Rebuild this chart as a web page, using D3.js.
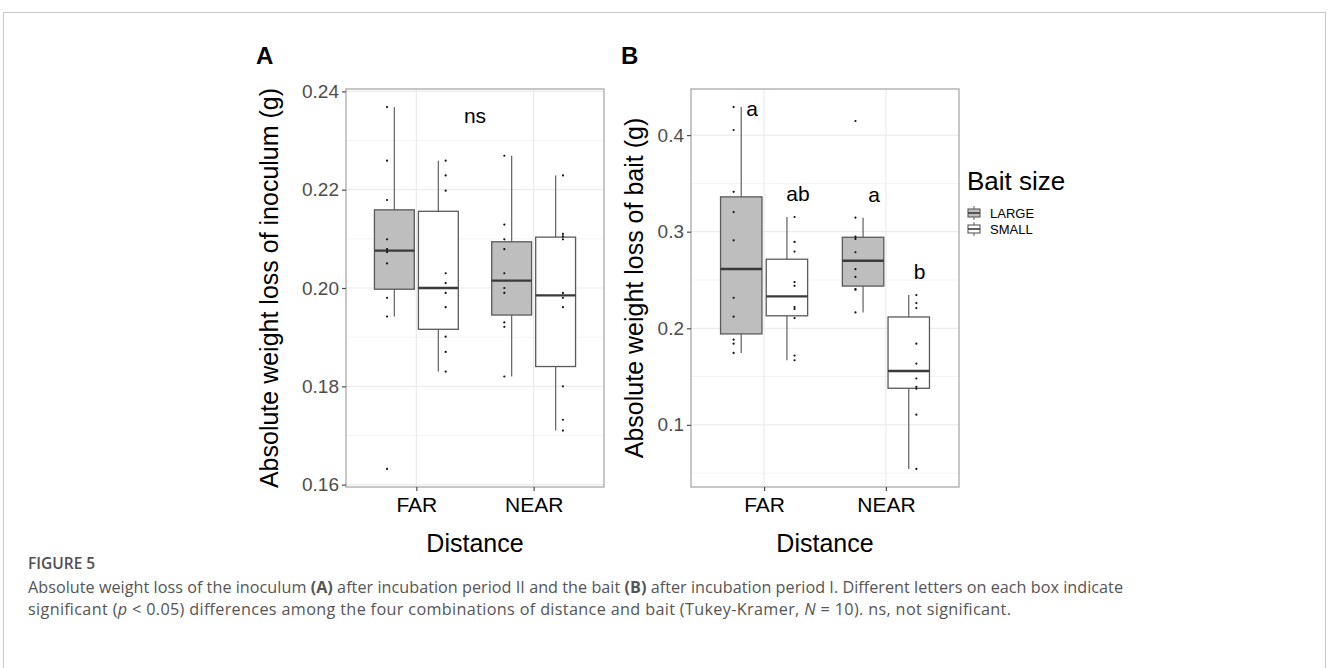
<!DOCTYPE html>
<html>
<head>
<meta charset="utf-8">
<script src="https://cdn.jsdelivr.net/npm/d3@7"></script>
<style>
  body { margin: 0; background: #fff; }
  svg { display: block; }
</style>
</head>
<body>
<svg id="fig" width="1328" height="668"></svg>
<script>
var svg = d3.select("#fig");

// categories
var distances = ["FAR", "NEAR"];
var baitSizes = ["LARGE", "SMALL"];

// panel A, weight loss of inoculum (g)
var inocFarLarge = [0.2368, 0.2259, 0.2179, 0.2099, 0.2079, 0.2073, 0.2050, 0.1980, 0.1942, 0.1632];
var inocFarSmall = [0.2259, 0.2229, 0.2198, 0.2030, 0.2010, 0.1990, 0.1961, 0.1901, 0.1870, 0.1830];
var inocNearLarge = [0.2269, 0.2129, 0.2099, 0.2079, 0.2030, 0.2000, 0.1990, 0.1930, 0.1921, 0.1820];
var inocNearSmall = [0.2229, 0.2110, 0.2105, 0.2099, 0.1990, 0.1980, 0.1961, 0.1800, 0.1732, 0.1710];

// panel B, weight loss of bait (g)
var baitFarLarge = [0.4290, 0.4053, 0.3413, 0.3203, 0.2911, 0.2316, 0.2120, 0.1882, 0.1841, 0.1745];
var baitFarSmall = [0.3152, 0.2894, 0.2794, 0.2478, 0.2440, 0.2220, 0.2199, 0.2106, 0.1717, 0.1669];
var baitNearLarge = [0.4146, 0.3145, 0.2948, 0.2925, 0.2787, 0.2612, 0.2532, 0.2405, 0.2400, 0.2164];
var baitNearSmall = [0.2344, 0.2261, 0.2209, 0.1841, 0.1635, 0.1480, 0.1394, 0.1374, 0.1105, 0.0544];

var inocTicks = [0.16, 0.18, 0.20, 0.22, 0.24];
var baitTicks = [0.1, 0.2, 0.3, 0.4];

// significance letters (B) and their heights
var baitLetters = ["a", "ab", "a", "b"];
var baitLetterY = [0.428, 0.340, 0.338, 0.259];
var inocLabel = "ns";
var inocLabelY = 0.235;

var fillColors = { LARGE: "#bebebe", SMALL: "#ffffff" };
var fontMain = "'Liberation Sans', Arial, Helvetica, sans-serif";

// outer frame
svg.append("rect")
  .attr("x", 3.5).attr("y", 12.5)
  .attr("width", 1322).attr("height", 680)
  .attr("fill", "none").attr("stroke", "#c8c8c8").attr("stroke-width", 1);

function boxStats(values) {
  var s = values.slice().sort(d3.ascending);
  var q1 = d3.quantile(s, 0.25), med = d3.quantile(s, 0.5), q3 = d3.quantile(s, 0.75);
  var iqr = q3 - q1;
  var lo = d3.min(s.filter(v => v >= q1 - 1.5 * iqr));
  var hi = d3.max(s.filter(v => v <= q3 + 1.5 * iqr));
  return { q1: q1, med: med, q3: q3, lo: lo, hi: hi };
}

function drawPanel(opt) {
  var g = svg.append("g");
  var left = opt.left, right = opt.right, top = opt.top, bottom = opt.bottom;

  var all = d3.merge(opt.groups.map(d => d.values));
  var ext = d3.extent(all);
  var pad = (ext[1] - ext[0]) * 0.05;
  var y = d3.scaleLinear().domain([ext[0] - pad, ext[1] + pad]).range([bottom, top]);
  var x = d3.scalePoint().domain(distances).range([left, right]).padding(0.6);
  var step = x.step();

  // grid, minor then major
  var minor = [];
  for (var i = 0; i < opt.ticks.length - 1; i++) minor.push((opt.ticks[i] + opt.ticks[i + 1]) / 2);
  minor.push(opt.ticks[0] - (opt.ticks[1] - opt.ticks[0]) / 2);
  minor.push(opt.ticks[opt.ticks.length - 1] + (opt.ticks[1] - opt.ticks[0]) / 2);
  minor = minor.filter(v => v > y.domain()[0] && v < y.domain()[1]);

  g.selectAll(".minor").data(minor).enter().append("line")
    .attr("x1", left).attr("x2", right)
    .attr("y1", d => y(d)).attr("y2", d => y(d))
    .attr("stroke", "#f3f3f3").attr("stroke-width", 1);
  g.selectAll(".major").data(opt.ticks).enter().append("line")
    .attr("x1", left).attr("x2", right)
    .attr("y1", d => y(d)).attr("y2", d => y(d))
    .attr("stroke", "#ebebeb").attr("stroke-width", 1.2);
  g.selectAll(".vmajor").data(distances).enter().append("line")
    .attr("x1", d => x(d)).attr("x2", d => x(d))
    .attr("y1", top).attr("y2", bottom)
    .attr("stroke", "#ebebeb").attr("stroke-width", 1.2);

  // boxes
  opt.groups.forEach(function (grp, idx) {
    var sign = grp.size == "LARGE" ? -1 : 1;
    var cx = x(grp.dist) + sign * 0.1875 * step;
    var bw = 0.34 * step;
    var st = boxStats(grp.values);

    g.append("line")
      .attr("x1", cx).attr("x2", cx).attr("y1", y(st.hi)).attr("y2", y(st.q3))
      .attr("stroke", "#6b6b6b").attr("stroke-width", 1.3);
    g.append("line")
      .attr("x1", cx).attr("x2", cx).attr("y1", y(st.q1)).attr("y2", y(st.lo))
      .attr("stroke", "#6b6b6b").attr("stroke-width", 1.3);
    g.append("rect")
      .attr("x", cx - bw / 2).attr("y", y(st.q3))
      .attr("width", bw).attr("height", y(st.q1) - y(st.q3))
      .attr("fill", fillColors[grp.size])
      .attr("stroke", "#5a5a5a").attr("stroke-width", 1.3);
    g.append("line")
      .attr("x1", cx - bw / 2).attr("x2", cx + bw / 2)
      .attr("y1", y(st.med)).attr("y2", y(st.med))
      .attr("stroke", "#3a3a3a").attr("stroke-width", 2.4);

    // raw dots, dodged a bit wider than boxes
    var px = x(grp.dist) + sign * 0.25 * step;
    g.selectAll(".pt" + idx).data(grp.values).enter().append("circle")
      .attr("cx", px).attr("cy", d => y(d)).attr("r", 1.1)
      .attr("fill", "#111");

    if (opt.letters) {
      g.append("text")
        .attr("x", cx + 0.09 * step).attr("y", y(opt.letterY[idx]))
        .attr("text-anchor", "middle").attr("dominant-baseline", "central")
        .style("font-family", fontMain).style("font-size", "21px").attr("fill", "#000")
        .text(opt.letters[idx]);
    }
  });

  if (opt.label) {
    g.append("text")
      .attr("x", (x("FAR") + x("NEAR")) / 2).attr("y", y(opt.labelY))
      .attr("text-anchor", "middle").attr("dominant-baseline", "central")
      .style("font-family", fontMain).style("font-size", "21px").attr("fill", "#000")
      .text(opt.label);
  }

  // panel border
  g.append("rect")
    .attr("x", left).attr("y", top)
    .attr("width", right - left).attr("height", bottom - top)
    .attr("fill", "none").attr("stroke", "#a9a9a9").attr("stroke-width", 1.3);

  // y axis
  var yAxis = d3.axisLeft(y).tickValues(opt.ticks).tickSize(4).tickPadding(3)
    .tickFormat(opt.format);
  var ya = g.append("g").attr("transform", "translate(" + left + ",0)").call(yAxis);
  ya.select(".domain").remove();
  ya.selectAll("line").attr("stroke", "#4d4d4d").attr("stroke-width", 1.2);
  ya.selectAll("text").style("font-family", fontMain).style("font-size", "19px").attr("fill", "#4d4d4d");

  // x axis
  var xAxis = d3.axisBottom(x).tickSize(4).tickPadding(6);
  var xa = g.append("g").attr("transform", "translate(0," + bottom + ")").call(xAxis);
  xa.select(".domain").remove();
  xa.selectAll("line").attr("stroke", "#4d4d4d").attr("stroke-width", 1.2);
  xa.selectAll("text").style("font-family", fontMain).style("font-size", "21px").attr("fill", "#000");

  // titles
  g.append("text")
    .attr("x", (left + right) / 2).attr("y", bottom + 65)
    .attr("text-anchor", "middle")
    .style("font-family", fontMain).style("font-size", "25px").attr("fill", "#000")
    .text("Distance");
  g.append("text")
    .attr("transform", "translate(" + opt.titleX + "," + ((top + bottom) / 2) + ")rotate(-90)")
    .attr("text-anchor", "middle")
    .style("font-family", fontMain).style("font-size", "25px").attr("fill", "#000")
    .text(opt.title);
  g.append("text")
    .attr("x", opt.tagX).attr("y", 64)
    .style("font-family", fontMain).style("font-size", "24px").style("font-weight", "bold")
    .attr("fill", "#000")
    .text(opt.tag);
}

drawPanel({
  left: 346, right: 604, top: 89, bottom: 487,
  groups: [
    { dist: "FAR", size: "LARGE", values: inocFarLarge },
    { dist: "FAR", size: "SMALL", values: inocFarSmall },
    { dist: "NEAR", size: "LARGE", values: inocNearLarge },
    { dist: "NEAR", size: "SMALL", values: inocNearSmall }
  ],
  ticks: inocTicks, format: d3.format(".2f"),
  label: inocLabel, labelY: inocLabelY,
  title: "Absolute weight loss of inoculum (g)", titleX: 278,
  tag: "A", tagX: 256
});

drawPanel({
  left: 691, right: 959, top: 89, bottom: 487,
  groups: [
    { dist: "FAR", size: "LARGE", values: baitFarLarge },
    { dist: "FAR", size: "SMALL", values: baitFarSmall },
    { dist: "NEAR", size: "LARGE", values: baitNearLarge },
    { dist: "NEAR", size: "SMALL", values: baitNearSmall }
  ],
  ticks: baitTicks, format: d3.format(".1f"),
  letters: baitLetters, letterY: baitLetterY,
  title: "Absolute weight loss of bait (g)", titleX: 643,
  tag: "B", tagX: 621
});

// legend
var legend = svg.append("g").attr("transform", "translate(967,0)");
legend.append("text")
  .attr("x", 0).attr("y", 190)
  .style("font-family", fontMain).style("font-size", "26px").attr("fill", "#000")
  .text("Bait size");
baitSizes.forEach(function (s, i) {
  var cy = 213 + i * 16;
  var k = legend.append("g");
  k.append("line").attr("x1", 7).attr("x2", 7).attr("y1", cy - 7).attr("y2", cy + 7)
    .attr("stroke", "#6b6b6b").attr("stroke-width", 1.1);
  k.append("rect").attr("x", 1).attr("y", cy - 4).attr("width", 12).attr("height", 8)
    .attr("fill", fillColors[s]).attr("stroke", "#5a5a5a").attr("stroke-width", 1.1);
  k.append("line").attr("x1", 1).attr("x2", 13).attr("y1", cy).attr("y2", cy)
    .attr("stroke", "#3a3a3a").attr("stroke-width", 1.6);
  legend.append("text")
    .attr("x", 23).attr("y", cy).attr("dominant-baseline", "central")
    .style("font-family", fontMain).style("font-size", "13px").attr("fill", "#000")
    .text(s);
});

// caption
var capFont = "'Open Sans', 'Noto Sans', sans-serif";
svg.append("text")
  .attr("x", 28).attr("y", 569)
  .style("font-family", capFont).style("font-size", "15.5px").style("font-weight", "600")
  .attr("fill", "#505050")
  .text("FIGURE 5");

var line1 = svg.append("text").attr("x", 28).attr("y", 593)
  .attr("textLength", 1095).attr("lengthAdjust", "spacing")
  .style("font-family", capFont).style("font-size", "16.2px").attr("fill", "#555");
line1.append("tspan").text("Absolute weight loss of the inoculum ");
line1.append("tspan").style("font-weight", "bold").text("(A)");
line1.append("tspan").text(" after incubation period II and the bait ");
line1.append("tspan").style("font-weight", "bold").text("(B)");
line1.append("tspan").text(" after incubation period I. Different letters on each box indicate");

var line2 = svg.append("text").attr("x", 28).attr("y", 615)
  .attr("textLength", 983).attr("lengthAdjust", "spacing")
  .style("font-family", capFont).style("font-size", "16.2px").attr("fill", "#555");
line2.append("tspan").text("significant (");
line2.append("tspan").style("font-style", "italic").text("p");
line2.append("tspan").text(" < 0.05) differences among the four combinations of distance and bait (Tukey-Kramer, ");
line2.append("tspan").style("font-style", "italic").text("N");
line2.append("tspan").text(" = 10). ns, not significant.");
</script>
</body>
</html>
